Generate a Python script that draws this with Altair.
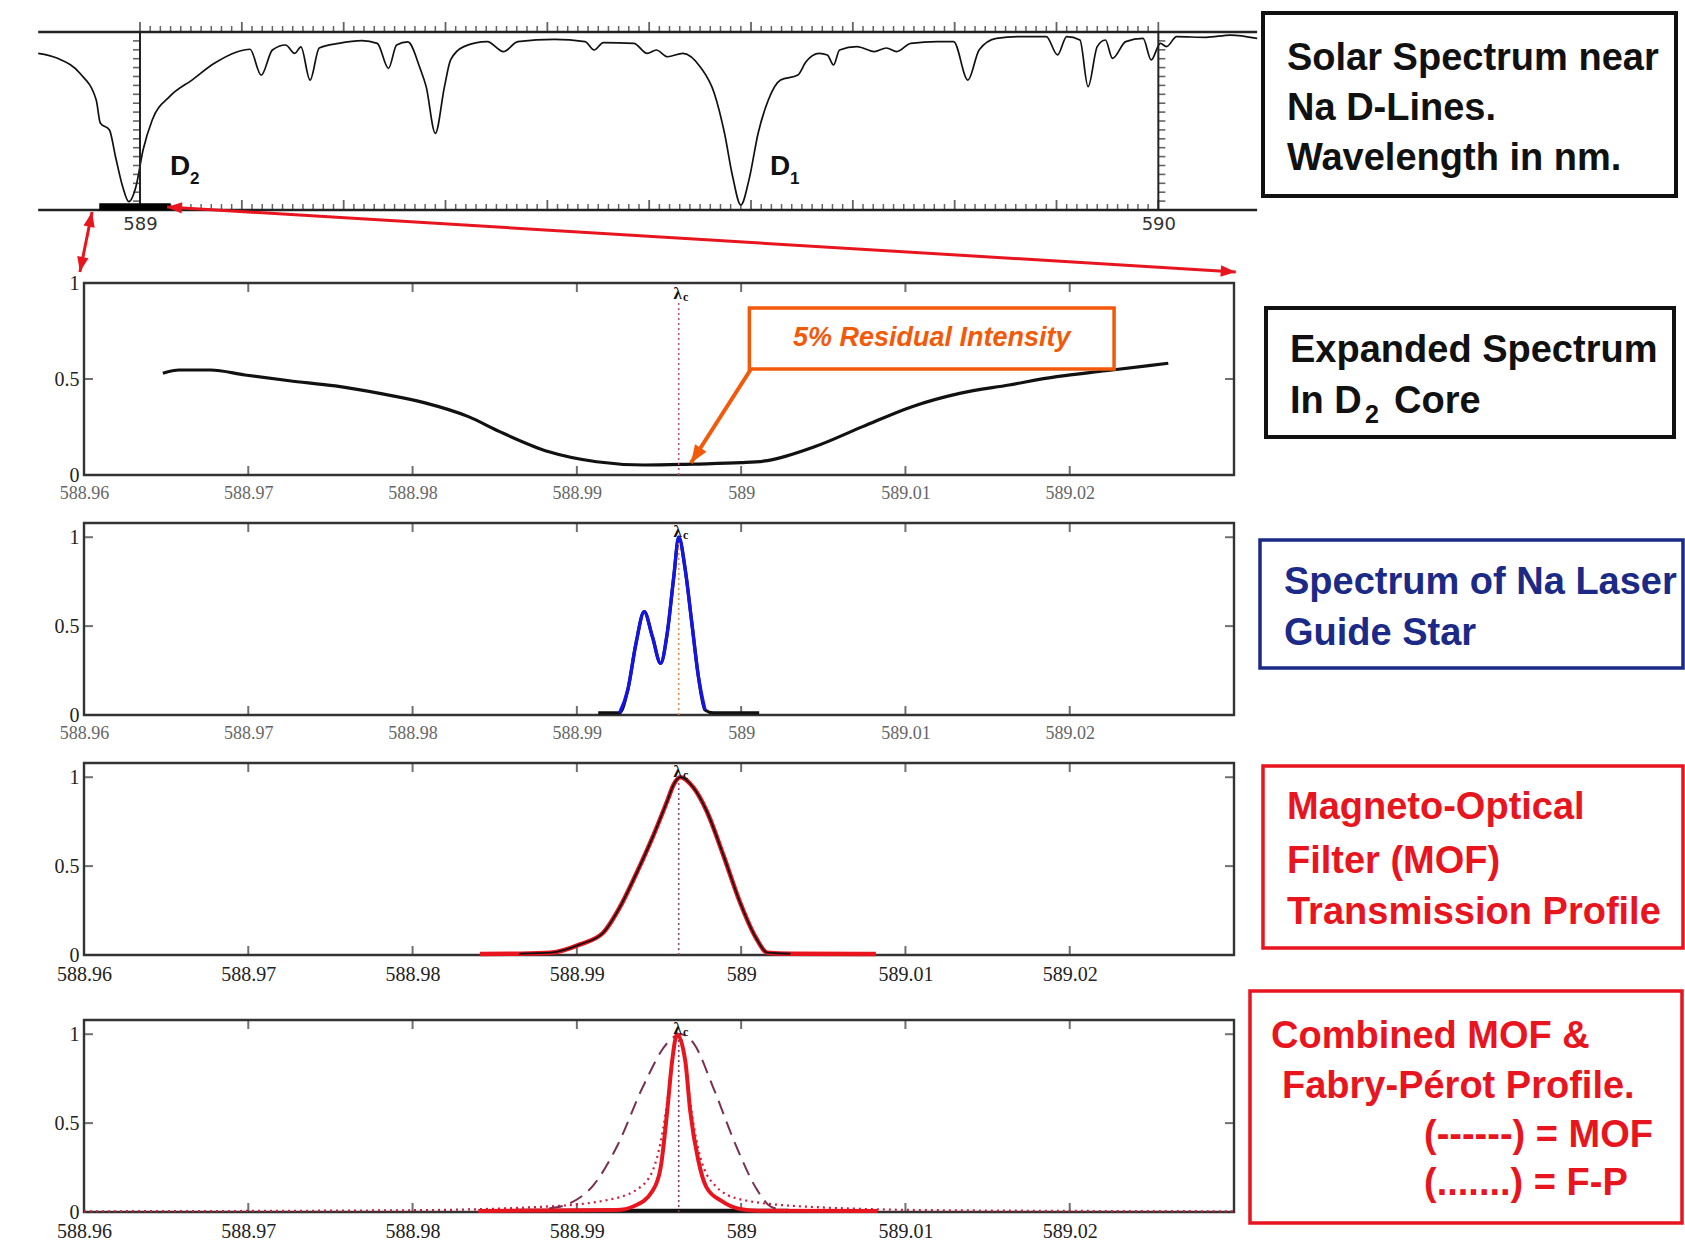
import altair as alt
import pandas as pd

# ------------------------------------------------------------------ data
LAMBDA_C = 588.9962

# Panel 1: solar spectrum near the Na D lines (normalised intensity)
solar_wl = [
    588.900, 588.919, 588.941, 588.957, 588.961, 588.970, 588.976, 588.983, 588.989, 588.996,
    589.003, 589.012, 589.029, 589.051, 589.073, 589.095, 589.108, 589.119, 589.130, 589.143,
    589.152, 589.158, 589.167, 589.176, 589.195, 589.218, 589.233, 589.244, 589.252, 589.263,
    589.275, 589.281, 589.290, 589.299, 589.305, 589.318, 589.341, 589.357, 589.371, 589.407,
    589.437, 589.446, 589.455, 589.485, 589.498, 589.507, 589.518, 589.533,
    589.550, 589.564, 589.574, 589.582, 589.590, 589.598, 589.607, 589.617, 589.629, 589.646,
    589.654, 589.667, 589.675, 589.681, 589.687, 589.704, 589.721, 589.733, 589.743, 589.757,
    589.783, 589.799, 589.813, 589.824, 589.841, 589.865, 589.890, 589.901, 589.910, 589.923,
    589.931, 589.940, 589.948, 589.955, 589.968, 589.985, 589.993, 590.002, 590.008, 590.018,
    590.047, 590.071, 590.097,
]
solar_val = [
    0.880, 0.852, 0.768, 0.618, 0.489, 0.449, 0.298, 0.131, 0.047, 0.131,
    0.337, 0.506, 0.637, 0.730, 0.824, 0.888, 0.903, 0.758, 0.899, 0.927,
    0.880, 0.916, 0.730, 0.910, 0.936, 0.951, 0.936, 0.796, 0.927, 0.944,
    0.796, 0.693, 0.431, 0.693, 0.843, 0.918, 0.946, 0.890, 0.946, 0.959,
    0.946, 0.899, 0.940, 0.936, 0.880, 0.899, 0.861, 0.880,
    0.805, 0.655, 0.431, 0.187, 0.028, 0.169, 0.431, 0.618, 0.730, 0.758,
    0.833, 0.880, 0.871, 0.815, 0.899, 0.918, 0.890, 0.910, 0.890, 0.936,
    0.946, 0.946, 0.730, 0.899, 0.964, 0.974, 0.974, 0.871, 0.974, 0.955,
    0.693, 0.918, 0.955, 0.852, 0.946, 0.964, 0.843, 0.936, 0.918, 0.974,
    0.970, 0.983, 0.964,
]
solar_labels = [589, 590]
zoom_range = [588.96, 589.03]

# Panel 2: expanded spectrum in D2 core
exp_wl = [588.9648, 588.9658, 588.9677, 588.9698, 588.9725, 588.9753, 588.9780, 588.9807,
          588.9834, 588.9853, 588.9883, 588.9912, 588.9941, 588.9971, 589.0000, 589.0016,
          589.0045, 589.0074, 589.0104, 589.0133, 589.0163, 589.0192, 589.0222, 589.0260]
exp_val = [0.530, 0.547, 0.547, 0.521, 0.491, 0.464, 0.425, 0.377,
           0.304, 0.226, 0.121, 0.069, 0.052, 0.057, 0.064, 0.075,
           0.148, 0.252, 0.356, 0.425, 0.469, 0.512, 0.543, 0.582]

# Panel 3: Na laser guide star spectrum
lgs_wl = [588.9913, 588.9926, 588.9931, 588.9936, 588.9941, 588.9946, 588.9951, 588.9955,
          588.9959, 588.9962, 588.9966, 588.9970, 588.9974, 588.9978, 588.9983, 589.0011]
lgs_val = [0.012, 0.012, 0.141, 0.403, 0.581, 0.440, 0.291, 0.460,
           0.778, 1.000, 0.816, 0.516, 0.215, 0.028, 0.012, 0.012]

# Panel 4: MOF transmission profile
mof_wl = [588.9841, 588.9865, 588.9884, 588.9902, 588.9916, 588.9926, 588.9936, 588.9946,
          588.9955, 588.9959, 588.9963, 588.9971, 588.9979, 588.9989, 588.9999, 589.0009,
          589.0016, 589.0030, 589.0082]
mof_val = [0.005, 0.007, 0.013, 0.060, 0.125, 0.266, 0.454, 0.660,
           0.866, 0.960, 1.000, 0.941, 0.810, 0.566, 0.304, 0.097,
           0.013, 0.007, 0.005]

# Panel 5: combined profile, MOF (dashed) and F-P (dotted)
comb_wl = [588.9840, 588.9924, 588.9935, 588.9946, 588.9951, 588.9955, 588.9958, 588.9961,
           588.9966, 588.9969, 588.9974, 588.9979, 588.9988, 588.9999, 589.0010, 589.0083]
comb_val = [0.006, 0.011, 0.034, 0.118, 0.249, 0.568, 0.849, 1.000,
            0.849, 0.568, 0.287, 0.137, 0.062, 0.017, 0.007, 0.006]
comb_base_wl = [588.9864, 589.0029]
comb_base_val = [0.008, 0.008]
mofd_wl = [588.9883, 588.9896, 588.9910, 588.9925, 588.9940, 588.9955, 588.9963,
           588.9971, 588.9983, 588.9997, 589.0010, 589.0018, 589.0027]
mofd_val = [0.02, 0.05, 0.15, 0.38, 0.70, 0.95, 1.00, 0.95, 0.70, 0.37, 0.12, 0.03, 0.01]
fp_wl = [588.960, 588.980, 588.988, 588.992, 588.994, 588.995, 588.9955, 588.9958, 588.9962,
         588.9966, 588.9969, 588.9974, 588.9984, 589.000, 589.004, 589.012, 589.030]
fp_val = [0.004, 0.010, 0.030, 0.070, 0.150, 0.350, 0.620, 0.850, 1.000,
          0.850, 0.620, 0.350, 0.150, 0.070, 0.030, 0.010, 0.004]

x_tick_values = [588.96, 588.97, 588.98, 588.99, 589.00, 589.01, 589.02]
y_tick_values = [0, 0.5, 1]

# text boxes
box1_lines = ["Solar Spectrum near", "Na D-Lines.", "Wavelength in nm."]
box2_lines = ["Expanded Spectrum", "In D", "2", "Core"]
box3_lines = ["Spectrum of Na Laser", "Guide Star"]
box4_lines = ["Magneto-Optical", "Filter (MOF)", "Transmission Profile"]
box5_lines = ["Combined MOF &", "Fabry-Pérot Profile.", "(------) = MOF", "(.......) = F-P"]
callout_text = "5% Residual Intensity"

# ------------------------------------------------------------------ style / layout
INK = "#111111"
AXC = "#333333"
RED = "#e8141e"
NAVY = "#1b2a86"
ORANGE = "#f25a0a"
BLUE = "#1414e6"
SERIF = "Liberation Serif"
SANS = "Liberation Sans"
ARROW = "M0,0L0.38,1L-0.38,1Z"

PW, H1, H = 1150, 178, 192
H2 = H + 25      # panel 2 view extended upwards (extra gap above it)
H5 = H + 17      # panel 5 view extended upwards (extra gap above it)


def Xs(field, scale, axis=None):
    return alt.X(f"{field}:Q", scale=scale, axis=axis)


def Ys(field, scale, axis=None):
    return alt.Y(f"{field}:Q", scale=scale, axis=axis)


# ------------------------------------------------------------------ panel 1
X1 = alt.Scale(domain=[588.945, 590.0743], nice=False, zero=False)
Y1 = alt.Scale(domain=[0, 1], nice=False, zero=False)

p1 = []
p1.append(
    alt.Chart(pd.DataFrame({"wl": solar_wl, "v": solar_val}))
    .mark_line(color=INK, strokeWidth=1.7, interpolate="monotone")
    .encode(
        x=Xs("wl", X1, alt.Axis(values=solar_labels, format="d", domain=False, ticks=False,
                                grid=False, title=None, labelFont="DejaVu Sans", labelFontSize=18,
                                labelColor="#333", labelPadding=5, labelFlush=False)),
        y=Ys("v", Y1),
    )
)
frame_df = pd.DataFrame({"x0": [solar_wl[0]] * 2, "x1": [solar_wl[-1]] * 2, "y": [0.0, 1.0]})
p1.append(alt.Chart(frame_df).mark_rule(color="#222", strokeWidth=2.5).encode(
    x=Xs("x0", X1), x2="x1:Q", y=Ys("y", Y1)))
ruler_df = pd.DataFrame({"x": solar_labels, "y0": [0.0, 0.0], "y1": [1.0, 1.0]})
p1.append(alt.Chart(ruler_df).mark_rule(color="#222", strokeWidth=2).encode(
    x=Xs("x", X1), y=Ys("y0", Y1), y2="y1:Q"))
rt = [round(0.05 * i, 2) for i in range(1, 20)]
p1.append(alt.Chart(pd.DataFrame({"x": [589] * len(rt), "y": rt})).mark_tick(
    orient="horizontal", size=7, thickness=1.6, xOffset=-3.5, color="#222").encode(
    x=Xs("x", X1), y=Ys("y", Y1)))
p1.append(alt.Chart(pd.DataFrame({"x": [590] * len(rt), "y": rt})).mark_tick(
    orient="horizontal", size=7, thickness=1.6, xOffset=3.5, color="#222").encode(
    x=Xs("x", X1), y=Ys("y", Y1)))
allt = [round(589 + 0.01 * i, 2) for i in range(101)]
minor = [t for i, t in enumerate(allt) if i % 10]
major = [t for i, t in enumerate(allt) if i % 10 == 0]
p1.append(alt.Chart(pd.DataFrame({"x": minor * 2, "y": [1.0] * len(minor) + [0.0] * len(minor)}))
          .mark_tick(orient="vertical", size=6, thickness=1.5, yOffset=-3, color="#222")
          .encode(x=Xs("x", X1), y=Ys("y", Y1)))
p1.append(alt.Chart(pd.DataFrame({"x": major * 2, "y": [1.0] * len(major) + [0.0] * len(major)}))
          .mark_tick(orient="vertical", size=10, thickness=1.8, yOffset=-5, color="#222")
          .encode(x=Xs("x", X1), y=Ys("y", Y1)))
p1.append(alt.Chart(pd.DataFrame({"x0": [zoom_range[0]], "x1": [zoom_range[1]], "y": [0.018]}))
          .mark_rule(color="black", strokeWidth=7).encode(x=Xs("x0", X1), x2="x1:Q", y=Ys("y", Y1)))
arr_df = pd.DataFrame({"x0": [589.0265, 588.9529], "y0": [0.017, -0.011],
                       "x1": [590.076, 588.941], "y1": [-0.348, -0.348]})
p1.append(alt.Chart(arr_df).mark_rule(color=RED, strokeWidth=3).encode(
    x=Xs("x0", X1), y=Ys("y0", Y1), x2="x1:Q", y2="y1:Q"))
head_df = pd.DataFrame({"x": [589.0265, 590.076, 588.9529, 588.941],
                        "y": [0.017, -0.348, -0.011, -0.348],
                        "ang": [273.5, 93.5, 11.3, 191.3]})
p1.append(alt.Chart(head_df).mark_point(shape=ARROW, filled=True, size=900, color=RED, opacity=1)
          .encode(x=Xs("x", X1), y=Ys("y", Y1), angle=alt.Angle("ang:Q", scale=None)))
dl_df = pd.DataFrame({"x": [589.0295, 589.6187], "y": [0.197, 0.197], "t": ["D", "D"], "s": ["2", "1"]})
p1.append(alt.Chart(dl_df).mark_text(align="left", baseline="alphabetic", font=SANS, fontWeight="bold",
                                     fontSize=28, color=INK).encode(x=Xs("x", X1), y=Ys("y", Y1), text="t:N"))
p1.append(alt.Chart(dl_df).mark_text(align="left", baseline="alphabetic", font=SANS, fontWeight="bold",
                                     fontSize=17, color=INK, dx=20, dy=9)
          .encode(x=Xs("x", X1), y=Ys("y", Y1), text="s:N"))

# ------------------------------------------------------------------ panels 2-5
XZ = alt.Scale(domain=zoom_range, nice=False, zero=False)


def zoom_panel(ytop, yview, curves, lc_color, lc_top, lc_lab, xlab_size, xlab_color, yinner):
    ys = alt.Scale(domain=[0, yview], nice=False, zero=False)
    layers = []
    bdf = pd.DataFrame({"x0": [zoom_range[0]], "x1": [zoom_range[1]], "y0": [0.0], "y1": [ytop]})
    layers.append(alt.Chart(bdf).mark_rect(fillOpacity=0, stroke=AXC, strokeWidth=2.4).encode(
        x=Xs("x0", XZ, alt.Axis(values=x_tick_values, format="~g", domain=False, ticks=False, grid=False,
                                title=None, labelFont=SERIF, labelFontSize=xlab_size, labelColor=xlab_color,
                                labelPadding=9, labelFlush=False, labelOverlap=False)),
        x2="x1:Q",
        y=Ys("y0", ys, alt.Axis(values=y_tick_values, format="~g", domain=False, ticks=False, grid=False,
                                title=None, labelFont=SERIF, labelFontSize=20, labelColor="#222",
                                labelPadding=5, labelFlush=False, labelOverlap=False)),
        y2="y1:Q"))
    inner_x = x_tick_values[1:]
    n = len(inner_x)
    layers.append(alt.Chart(pd.DataFrame({"x": inner_x, "y": [0.0] * n})).mark_tick(
        orient="vertical", size=9, thickness=2, yOffset=-4.5, color=AXC).encode(x=Xs("x", XZ), y=Ys("y", ys)))
    layers.append(alt.Chart(pd.DataFrame({"x": inner_x, "y": [ytop] * n})).mark_tick(
        orient="vertical", size=9, thickness=2, yOffset=4.5, color=AXC).encode(x=Xs("x", XZ), y=Ys("y", ys)))
    m = len(yinner)
    layers.append(alt.Chart(pd.DataFrame({"x": [zoom_range[0]] * m, "y": yinner})).mark_tick(
        orient="horizontal", size=9, thickness=2, xOffset=4.5, color=AXC).encode(x=Xs("x", XZ), y=Ys("y", ys)))
    layers.append(alt.Chart(pd.DataFrame({"x": [zoom_range[1]] * m, "y": yinner})).mark_tick(
        orient="horizontal", size=9, thickness=2, xOffset=-4.5, color=AXC).encode(x=Xs("x", XZ), y=Ys("y", ys)))
    for c in curves:
        layers.extend(c(ys))
    layers.append(alt.Chart(pd.DataFrame({"x": [LAMBDA_C], "y0": [0.0], "y1": [lc_top]})).mark_rule(
        color=lc_color, strokeWidth=1.6, strokeDash=[2, 3]).encode(x=Xs("x", XZ), y=Ys("y0", ys), y2="y1:Q"))
    ldf = pd.DataFrame({"x": [LAMBDA_C], "y": [lc_lab], "t": ["λ"], "s": ["c"]})
    layers.append(alt.Chart(ldf).mark_text(font=SERIF, fontSize=17, fontWeight="bold", color=INK, dx=-1)
                  .encode(x=Xs("x", XZ), y=Ys("y", ys), text="t:N"))
    layers.append(alt.Chart(ldf).mark_text(font=SERIF, fontSize=12, fontWeight="bold", color=INK, dx=7, dy=3)
                  .encode(x=Xs("x", XZ), y=Ys("y", ys), text="s:N"))
    return layers


def line(wl, val, color, width, dash=None):
    kw = dict(color=color, strokeWidth=width, interpolate="monotone")
    if dash:
        kw["strokeDash"] = dash

    def f(ys):
        return [alt.Chart(pd.DataFrame({"wl": wl, "v": val})).mark_line(**kw).encode(
            x=Xs("wl", XZ), y=Ys("v", ys))]
    return f


def callout(ys):
    rdf = pd.DataFrame({"x0": [589.0005], "x1": [589.0227], "y0": [0.552], "y1": [0.870]})
    r = alt.Chart(rdf).mark_rect(fill="white", stroke=ORANGE, strokeWidth=3.5).encode(
        x=Xs("x0", XZ), x2="x1:Q", y=Ys("y0", ys), y2="y1:Q")
    t = alt.Chart(pd.DataFrame({"x": [589.0116], "y": [0.711], "t": [callout_text]})).mark_text(
        font=SANS, fontStyle="italic", fontWeight="bold", fontSize=27, color=ORANGE, baseline="middle").encode(
        x=Xs("x", XZ), y=Ys("y", ys), text="t:N")
    a = alt.Chart(pd.DataFrame({"x0": [589.0006], "y0": [0.552], "x1": [588.99694], "y1": [0.0625]})).mark_rule(
        color=ORANGE, strokeWidth=4).encode(x=Xs("x0", XZ), y=Ys("y0", ys), x2="x1:Q", y2="y1:Q")
    h = alt.Chart(pd.DataFrame({"x": [588.99694], "y": [0.0625], "ang": [213.3]})).mark_point(
        shape=ARROW, filled=True, size=1300, color=ORANGE, opacity=1).encode(
        x=Xs("x", XZ), y=Ys("y", ys), angle=alt.Angle("ang:Q", scale=None))
    return [a, h, r, t]


p2 = zoom_panel(1.0, 1.0 + 25 / 192, [line(exp_wl, exp_val, INK, 3.2), callout],
                "#c0507a", 0.90, 0.945, 18, "#666", [0.5])
p3 = zoom_panel(1.08, 1.08, [line(lgs_wl, lgs_val, INK, 3.2),
                             line(lgs_wl[1:14], lgs_val[1:14], BLUE, 3.4)],
                "#e0904a", 0.97, 1.03, 18, "#666", [0.5, 1.0])
p4 = zoom_panel(1.08, 1.08, [line(mof_wl, mof_val, RED, 4.5),
                             line(mof_wl[1:18], mof_val[1:18], INK, 1.8)],
                "#8a4a70", 0.97, 1.03, 20, "#222", [0.5, 1.0])
p5 = zoom_panel(1.08, 1.08 + 17 * 1.08 / 192,
                [line(fp_wl, fp_val, "#c8203c", 2.2, [2, 4]),
                 line(mofd_wl, mofd_val, "#7a3050", 2.0, [14, 8]),
                 line(comb_base_wl, comb_base_val, INK, 3.5),
                 line(comb_wl, comb_val, RED, 4.0)],
                "#8a3a60", 0.97, 1.03, 20, "#222", [0.5, 1.0])


# ------------------------------------------------------------------ text boxes
# box coordinates are pixels relative to the panel's plot area (left, top)
def box_layers(h, rect, texts, stroke, stroke_w, color):
    sx = alt.Scale(domain=[0, PW], nice=False, zero=False)
    sy = alt.Scale(domain=[0, h], nice=False, zero=False, reverse=True)
    rdf = pd.DataFrame([rect], columns=["x0", "x1", "y0", "y1"])
    r = alt.Chart(rdf).mark_rect(fill="white", stroke=stroke, strokeWidth=stroke_w).encode(
        x=Xs("x0", sx), x2="x1:Q", y=Ys("y0", sy), y2="y1:Q")
    tdf = pd.DataFrame(texts, columns=["x", "y", "t", "fs"])
    t = alt.Chart(tdf).mark_text(align="left", baseline="alphabetic", font=SANS, fontWeight="bold",
                                 color=color).encode(
        x=Xs("x", sx), y=Ys("y", sy), text="t:N", size=alt.Size("fs:Q", scale=None))
    return [r, t]


FS = 38
b1 = box_layers(H1, [1179, 1592, -19, 164],
                [[1203, 38, box1_lines[0], FS], [1203, 88, box1_lines[1], FS], [1203, 138, box1_lines[2], FS]],
                INK, 4, INK)
b2 = box_layers(H2, [1182, 1590, 50, 179],
                [[1206, 104, box2_lines[0], FS], [1206, 155, box2_lines[1], FS],
                 [1281, 165, box2_lines[2], 25], [1310, 155, box2_lines[3], FS]],
                INK, 4, INK)
b3 = box_layers(H, [1176, 1599, 17, 145],
                [[1200, 71, box3_lines[0], FS], [1200, 122, box3_lines[1], FS]],
                NAVY, 3.5, NAVY)
b4 = box_layers(H, [1179, 1599, 3, 185],
                [[1203, 56, box4_lines[0], FS], [1203, 110, box4_lines[1], FS], [1203, 161, box4_lines[2], FS]],
                RED, 3.5, RED)
b5 = box_layers(H5, [1166, 1598, -12, 220],
                [[1187, 45, box5_lines[0], FS], [1198, 95, box5_lines[1], FS],
                 [1340, 144, box5_lines[2], FS], [1340, 192, box5_lines[3], FS]],
                RED, 3.5, RED)


# ------------------------------------------------------------------ assembly
def row(panel, box, h):
    return alt.layer(*panel, *box).resolve_scale(x="independent", y="independent").properties(
        width=PW, height=h)


chart = alt.vconcat(
    row(p1, b1, H1),
    row(p2, b2, H2),
    row(p3, b3, H),
    row(p4, b4, H),
    row(p5, b5, H5),
    spacing=48, bounds="flush",
    padding={"left": 34, "top": 11, "right": 0, "bottom": 0},
    background="white",
).configure_view(strokeWidth=0)

chart.save("out.html", embed_options={"renderer": "svg", "actions": False})
